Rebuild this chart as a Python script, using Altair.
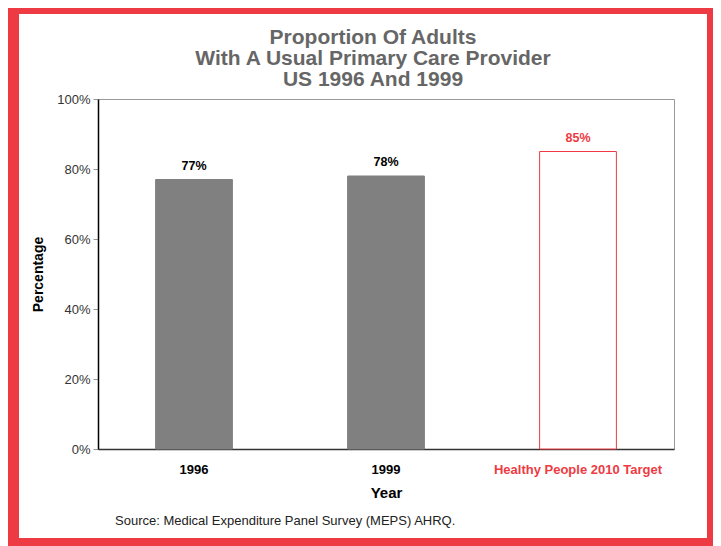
import altair as alt
import pandas as pd

# ---- data ----
categories = ["1996", "1999", "Healthy People 2010 Target"]
values = [77, 78, 85]
value_labels = ["77%", "78%", "85%"]
title_lines = ["Proportion Of Adults", "With A Usual Primary Care Provider", "US 1996 And 1999"]
y_ticks = [0, 20, 40, 60, 80, 100]
source_note = "Source: Medical Expenditure Panel Survey (MEPS) AHRQ."

RED = "#EE3B43"
GRAY_BAR = "#808080"
TARGET = categories[2]
FONT = "'Liberation Sans', Arial, Helvetica, sans-serif"

df = pd.DataFrame({"category": categories, "value": values, "label": value_labels})

W, H = 576, 350
is_target = alt.datum.category == TARGET

x = alt.X(
    "category:N", sort=categories, title="Year",
    scale=alt.Scale(paddingInner=0.6, paddingOuter=0.3),
    axis=alt.Axis(
        labelAngle=0, labelFont=FONT, labelFontWeight="bold", labelFontSize=13, labelLimit=400,
        labelColor=alt.ExprRef(expr=f"datum.value == '{TARGET}' ? '{RED}' : '#000000'"),
        ticks=False, domainColor="#333333", domainWidth=1.5, labelPadding=14,
        titleFont=FONT, titleFontSize=15, titleFontWeight="bold", titleColor="#000000",
        titlePadding=9,
    ),
)
y = alt.Y(
    "value:Q", title="Percentage",
    scale=alt.Scale(domain=[0, 100]),
    axis=alt.Axis(
        values=y_ticks, labelExpr="datum.value + '%'", grid=False,
        domainColor="#000000", domainWidth=1.5, tickColor="#999999", tickSize=5,
        labelFont=FONT, labelFontSize=13, labelColor="#333333", labelPadding=3,
        titleFont=FONT, titleFontSize=14, titleFontWeight="bold", titleColor="#000000",
        titlePadding=11,
    ),
)

frame = alt.Chart(alt.Data(values=[{}])).mark_rect(
    fill="transparent", stroke=RED, strokeWidth=11
).encode(x=alt.value(-84.5), x2=alt.value(614.5), y=alt.value(-90.5), y2=alt.value(444.5))

bars = alt.Chart(df).mark_bar(strokeWidth=1).encode(
    x=x, y=y,
    fill=alt.condition(is_target, alt.value("white"), alt.value(GRAY_BAR)),
    stroke=alt.condition(is_target, alt.value(RED), alt.value(GRAY_BAR)),
)

labels = alt.Chart(df).mark_text(
    dy=-14, fontWeight="bold", fontSize=12.5, font=FONT, baseline="middle"
).encode(
    x=alt.X("category:N", sort=categories),
    y="value:Q",
    text="label:N",
    color=alt.condition(is_target, alt.value(RED), alt.value("#000000")),
)

source = alt.Chart(alt.Data(values=[{}])).mark_text(
    text=source_note, align="left", baseline="middle", fontSize=13, font=FONT, color="#222222"
).encode(x=alt.value(17), y=alt.value(H + 72))

chart = alt.layer(frame, bars, labels, source).properties(
    width=W, height=H,
    title=alt.TitleParams(
        text=title_lines, font=FONT, fontSize=21, fontWeight="bold", color="#666666",
        anchor="middle", dx=-13, offset=0, baseline="bottom", dy=108, lineHeight=21,
    ),
    autosize="none",
    padding={"left": 90, "top": 91, "right": 39, "bottom": 97},
    background="white",
).configure_view(stroke="#999999", strokeWidth=1)

chart.save("out.html", embed_options={"renderer": "svg", "actions": False})
